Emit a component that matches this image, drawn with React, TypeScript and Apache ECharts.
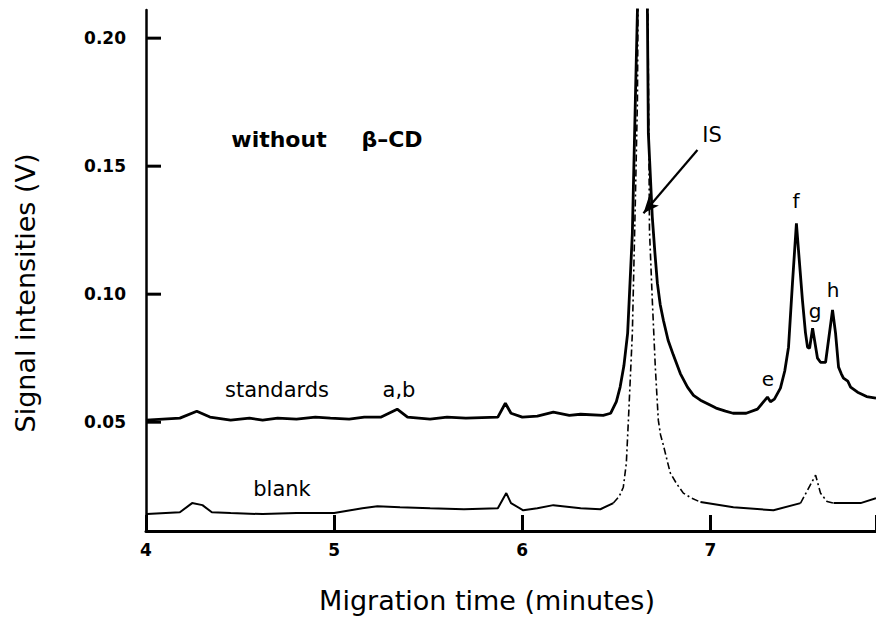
import React, { useEffect, useRef } from "react";
import * as echarts from "echarts";

// ---- data ----
const standardsTimes = [
  4.0, 4.18, 4.27, 4.34, 4.45, 4.55, 4.62, 4.7, 4.8, 4.9, 4.98, 5.08, 5.16, 5.25, 5.335, 5.39,
  5.51, 5.6, 5.7, 5.87, 5.91, 5.94, 6.0, 6.08, 6.165, 6.25, 6.31, 6.43, 6.47, 6.5, 6.52, 6.54,
  6.56, 6.585, 6.601, 6.612, 6.64, 6.665, 6.67, 6.691, 6.705, 6.718, 6.733, 6.75, 6.775, 6.803,
  6.84, 6.878, 6.91, 6.947, 6.99, 7.03, 7.08, 7.12, 7.19, 7.25, 7.303, 7.319, 7.34, 7.372, 7.395,
  7.415, 7.436, 7.457, 7.468, 7.489, 7.505, 7.516, 7.527, 7.543, 7.569, 7.585, 7.612, 7.649,
  7.665, 7.681, 7.695, 7.707, 7.73, 7.745, 7.782, 7.83, 7.88,
];
const standardsValues = [
  0.0508, 0.0516, 0.0543, 0.052, 0.0508, 0.0516, 0.0508, 0.0516, 0.0512, 0.052, 0.0516, 0.0512,
  0.052, 0.052, 0.0551, 0.052, 0.0512, 0.052, 0.0516, 0.052, 0.0574, 0.0535, 0.052, 0.0524,
  0.0539, 0.0527, 0.0531, 0.0527, 0.0535, 0.058, 0.0637, 0.072, 0.0848, 0.1238, 0.1758, 0.2109,
  0.5, 0.2109, 0.1629, 0.1301, 0.116, 0.1043, 0.096, 0.0898, 0.082, 0.0762, 0.069, 0.0637,
  0.0605, 0.0586, 0.057, 0.0555, 0.0543, 0.0535, 0.0535, 0.0551, 0.0598, 0.058, 0.059, 0.0633,
  0.07, 0.0793, 0.1043, 0.1277, 0.1172, 0.0977, 0.085, 0.0793, 0.0789, 0.0867, 0.075, 0.0734,
  0.0734, 0.0938, 0.0848, 0.0715, 0.069, 0.0672, 0.066, 0.0637, 0.0617, 0.06, 0.0594,
];
const blankTimes = [
  4.0, 4.005, 4.18, 4.245, 4.3, 4.35, 4.45, 4.62, 4.8, 5.0, 5.15, 5.23, 5.35, 5.51, 5.69, 5.87,
  5.915, 5.94, 6.005, 6.08, 6.165, 6.31, 6.415, 6.484, 6.515, 6.537, 6.553, 6.564, 6.585, 6.601,
  6.612, 6.64, 6.676, 6.691, 6.707, 6.723, 6.735, 6.75, 6.77, 6.787, 6.82, 6.856, 6.9, 6.947,
  7.122, 7.335, 7.479, 7.559, 7.585, 7.62, 7.654, 7.798, 7.88,
];
const blankValues = [
  0.0075, 0.0141, 0.0148, 0.0184, 0.0176, 0.0148, 0.0145, 0.0141, 0.0145, 0.0145, 0.0164,
  0.0172, 0.0168, 0.0164, 0.016, 0.0164, 0.0223, 0.0184, 0.0156, 0.0164, 0.0176, 0.0164, 0.016,
  0.0184, 0.021, 0.0246, 0.034, 0.0508, 0.0848, 0.1367, 0.1758, 0.5, 0.125, 0.0977, 0.0715,
  0.0508, 0.045, 0.041, 0.035, 0.0301, 0.026, 0.0223, 0.0203, 0.0188, 0.0168, 0.0156, 0.0184,
  0.0293, 0.0223, 0.019, 0.0184, 0.0184, 0.0203,
];
// time ranges where the blank trace is drawn dash-dotted
const blankDashedRanges: [number, number][] = [
  [6.484, 6.947],
  [7.479, 7.654],
];

const xTicks = [4, 5, 6, 7];
const yTicks = [0.05, 0.1, 0.15, 0.2];
const X_MIN = 4;
const X_MAX = 7.88;
const Y_MIN = 0.0075;
const Y_MAX = 0.211;

// IS arrow (tail -> head) in data coordinates
const isArrowTail = [6.931, 0.1563];
const isArrowHead = [6.644, 0.1316];

const FONT = "DejaVu Sans";
const GRID = { left: 146, right: 0, top: 10, bottom: 91 };
const W = 876;
const H = 622;

function pairs(ts: number[], vs: number[]) {
  return ts.map((t, i) => [t, vs[i]]);
}

export default function App() {
  const ref = useRef<HTMLDivElement>(null);
  useEffect(() => {
    if (!ref.current) return;
    const chart = echarts.init(ref.current, undefined, { renderer: "svg" });

    const blankAll = pairs(blankTimes, blankValues);
    const cuts = [blankTimes[0], ...blankDashedRanges.flat(), blankTimes[blankTimes.length - 1]];
    const blankSeries: any[] = [];
    for (let k = 0; k < cuts.length - 1; k++) {
      const a = cuts[k];
      const b = cuts[k + 1];
      const dashed = k % 2 === 1;
      const seg = blankAll.filter((p) => p[0] >= a - 1e-9 && p[0] <= b + 1e-9);
      blankSeries.push({
        name: "blank",
        type: "line",
        data: seg,
        showSymbol: false,
        symbol: "none",
        clip: true,
        lineStyle: {
          color: "#000",
          width: dashed ? 1.6 : 2,
          type: dashed ? [7, 3, 2, 3] : "solid",
        },
        z: 2,
      });
    }

    const textStyle = (size: number, weight: string = "normal") => ({
      fill: "#000",
      font: `${weight} ${size}px "${FONT}"`,
      textAlign: "center",
      textVerticalAlign: "middle",
    });

    const texts = [
      { type: "text", x: 279, y: 139, style: { text: "without", ...textStyle(22, "bold") } },
      { type: "text", x: 392, y: 139, style: { text: "β–CD", ...textStyle(22, "bold") } },
      { type: "text", x: 712, y: 135, style: { text: "IS", ...textStyle(21) } },
      { type: "text", x: 277, y: 390, style: { text: "standards", ...textStyle(21) } },
      { type: "text", x: 399, y: 390, style: { text: "a,b", ...textStyle(21) } },
      { type: "text", x: 282, y: 489, style: { text: "blank", ...textStyle(21) } },
      { type: "text", x: 768, y: 379, style: { text: "e", ...textStyle(20) } },
      { type: "text", x: 796, y: 201, style: { text: "f", ...textStyle(20) } },
      { type: "text", x: 815, y: 311, style: { text: "g", ...textStyle(20) } },
      { type: "text", x: 833, y: 290, style: { text: "h", ...textStyle(20) } },
      {
        type: "text",
        x: 487,
        y: 600,
        style: { text: "Migration time (minutes)", ...textStyle(27) },
      },
      {
        type: "text",
        x: 25,
        y: 293,
        rotation: Math.PI / 2,
        style: { text: "Signal intensities (V)", ...textStyle(27) },
      },
    ];

    const option: any = {
      animation: false,
      backgroundColor: "#fff",
      grid: { ...GRID, containLabel: false },
      xAxis: {
        type: "value",
        min: X_MIN,
        max: X_MAX,
        interval: 1,
        axisLine: { show: true, lineStyle: { color: "#000", width: 3 } },
        axisTick: {
          show: true,
          inside: true,
          length: 16,
          lineStyle: { color: "#000", width: 3 },
        },
        axisLabel: {
          customValues: xTicks,
          color: "#000",
          fontFamily: FONT,
          fontWeight: "bold",
          fontSize: 17,
          margin: 10,
        },
        splitLine: { show: false },
      },
      yAxis: {
        type: "value",
        min: Y_MIN,
        max: Y_MAX,
        axisLine: { show: true, lineStyle: { color: "#000", width: 2.5 } },
        axisTick: { show: false },
        axisLabel: {
          customValues: yTicks,
          color: "#000",
          fontFamily: FONT,
          fontWeight: "bold",
          fontSize: 17,
          margin: 20,
          formatter: (v: number) => v.toFixed(2),
        },
        splitLine: { show: false },
      },
      series: [
        {
          name: "standards",
          type: "line",
          data: pairs(standardsTimes, standardsValues),
          showSymbol: false,
          symbol: "none",
          clip: true,
          lineStyle: { color: "#000", width: 2.8 },
          z: 3,
          markLine: {
            silent: true,
            symbol: ["none", "arrow"],
            symbolSize: [10, 16],
            label: { show: false },
            lineStyle: { color: "#000", width: 2.2, type: "solid" },
            data: [[{ coord: isArrowTail }, { coord: isArrowHead }]],
          },
        },
        ...blankSeries,
      ],
      graphic: texts,
    };
    chart.setOption(option);

    // pixel position of a data point: the library's own conversion, with a linear fallback
    const toPx = (x: number, y: number): number[] => {
      let p: any = null;
      try {
        p = chart.convertToPixel({ xAxisIndex: 0, yAxisIndex: 0 } as any, [x, y]);
      } catch (e) {
        p = null;
      }
      if (p && isFinite(p[0]) && isFinite(p[1])) return p as number[];
      const gw = W - GRID.left - GRID.right;
      const gh = H - GRID.top - GRID.bottom;
      return [
        GRID.left + ((x - X_MIN) / (X_MAX - X_MIN)) * gw,
        GRID.top + ((Y_MAX - y) / (Y_MAX - Y_MIN)) * gh,
      ];
    };

    // inward y-axis ticks
    const tickEls: any[] = yTicks.map((v) => {
      const p = toPx(X_MIN, v);
      return {
        type: "rect",
        z: 100,
        shape: { x: p[0], y: p[1] - 1.5, width: 15, height: 3 },
        style: { fill: "#000" },
      };
    });
    chart.setOption({ graphic: [...texts, ...tickEls] }, { replaceMerge: ["graphic"] });

    return () => chart.dispose();
  }, []);
  return (
    <div
      ref={ref}
      style={{ position: "absolute", left: 0, top: 0, width: W, height: H, background: "#fff" }}
    />
  );
}
